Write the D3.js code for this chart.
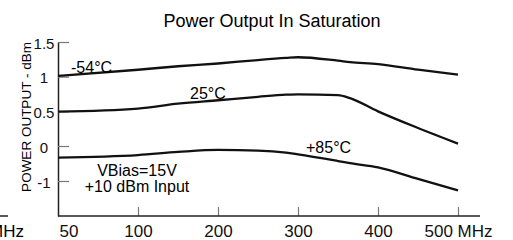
<!DOCTYPE html>
<html>
<head>
<meta charset="utf-8">
<script src="https://cdn.jsdelivr.net/npm/d3@7"></script>
<style>
  body { margin: 0; background: #fff; }
  svg { display: block; font-family: "Liberation Sans", Arial, sans-serif; }
</style>
</head>
<body>
<svg id="chart" width="513" height="240"></svg>
<script>
// frequencies in MHz
var freqs = [50, 100, 150, 200, 250, 285, 300, 350, 365, 400, 450, 500];
var coldVals = [1.01, 1.10, 1.15, 1.19, 1.24, 1.27, 1.28, 1.23, 1.21, 1.18, 1.10, 1.03];
var roomVals = [0.495, 0.54, 0.61, 0.66, 0.71, 0.74, 0.745, 0.735, 0.69, 0.50, 0.26, 0.035];
var hotVals = [-0.33, -0.26, -0.17, -0.11, -0.13, -0.19, -0.24, -0.43, -0.49, -0.61, -0.94, -1.27];

var xTicks = [50, 100, 200, 300, 400, 500];
var yTicks = [1.5, 1, 0.5, 0, -1];

var svg = d3.select("#chart");

// the original plot is not linear: 50->100 gets same room as 100->200,
// and below 0 one unit is as tall as half a unit above 0
var x = d3.scaleLinear().domain([50, 100, 500]).range([58, 138, 458]);
var y = d3.scaleLinear().domain([-2, 0, 1.5]).range([216, 146, 42]);

// title
svg.append("text")
  .attr("x", 272).attr("y", 27)
  .attr("text-anchor", "middle")
  .style("font-size", "18px")
  .text("Power Output In Saturation");

// leftover from the neighbouring chart
svg.append("line")
  .attr("x1", 0).attr("x2", 8).attr("y1", 216).attr("y2", 216)
  .attr("stroke", "#222").attr("stroke-width", 1.5);
svg.append("text")
  .attr("x", 24).attr("y", 237)
  .attr("text-anchor", "end")
  .style("font-size", "17px")
  .text("MHz");

// x axis
var xAxis = svg.append("g")
  .attr("transform", "translate(0,216)")
  .call(d3.axisBottom(x)
    .tickValues(xTicks)
    .tickSizeInner(-9)
    .tickSizeOuter(0)
    .tickPadding(9)
    .tickFormat(function (d) { return d === 500 ? "500 MHz" : d; }));
xAxis.select(".domain").remove();
xAxis.selectAll(".tick line").attr("stroke", "#777").attr("stroke-width", 1.2);
xAxis.selectAll(".tick text")
  .attr("fill", "#111")
  .style("font-size", "17px")
  .style("font-family", "inherit");
xAxis.selectAll(".tick").filter(function (d) { return d === 50; })
  .call(function (t) {
    t.select("line").remove();
    t.select("text").attr("text-anchor", "start").attr("x", 1);
  });
svg.append("line")
  .attr("x1", x(50)).attr("x2", x(500) + 22)
  .attr("y1", 216).attr("y2", 216)
  .attr("stroke", "#222").attr("stroke-width", 1.5);

// y axis
var yAxis = svg.append("g")
  .attr("transform", "translate(58,0)")
  .call(d3.axisLeft(y)
    .tickValues(yTicks)
    .tickSizeInner(-11)
    .tickSizeOuter(0)
    .tickFormat(function (d) { return d; }));
yAxis.select(".domain").attr("stroke", "#222").attr("stroke-width", 1.5);
yAxis.selectAll(".tick line").attr("stroke", "#777").attr("stroke-width", 1.2);
yAxis.selectAll(".tick text")
  .attr("x", -14)
  .attr("dy", "0.4em")
  .attr("text-anchor", "middle")
  .attr("fill", "#111")
  .style("font-size", "15px")
  .style("font-family", "inherit");

svg.append("text")
  .attr("transform", "translate(30.5,117) rotate(-90)")
  .attr("text-anchor", "middle")
  .style("font-size", "13.5px")
  .text("POWER OUTPUT - dBm");

// curves
var line = d3.line()
  .x(function (d, i) { return x(freqs[i]); })
  .y(function (d) { return y(d); })
  .curve(d3.curveMonotoneX);

[coldVals, roomVals, hotVals].forEach(function (vals) {
  svg.append("path")
    .datum(vals)
    .attr("d", line)
    .attr("fill", "none")
    .attr("stroke", "#111")
    .attr("stroke-width", 2.3);
});

// labels
var labels = [
  {t: "-54°C", x: 71, y: 73, a: "start"},
  {t: "25°C", x: 190, y: 99, a: "start"},
  {t: "+85°C", x: 306, y: 153, a: "start"},
  {t: "VBias=15V", x: 137, y: 176, a: "middle"},
  {t: "+10 dBm Input", x: 137, y: 192, a: "middle"}
];
labels.forEach(function (l) {
  svg.append("text")
    .attr("x", l.x).attr("y", l.y)
    .attr("text-anchor", l.a)
    .style("font-size", "16px")
    .text(l.t);
});
</script>
</body>
</html>
